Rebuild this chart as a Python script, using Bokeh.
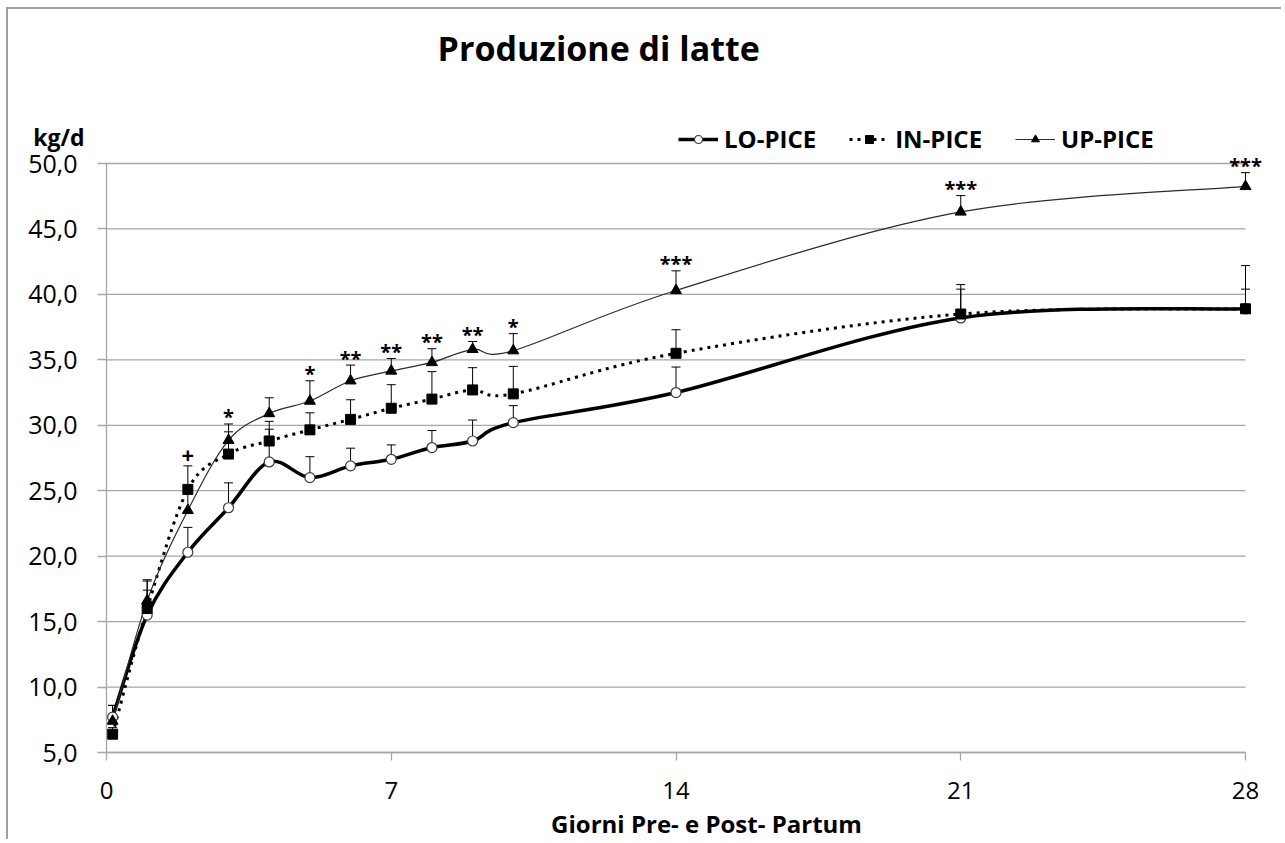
import numpy as np
from bokeh.plotting import figure
from bokeh.models import (Range1d, FixedTicker, Legend, LegendItem, Whisker, TeeHead,
                          ColumnDataSource)
from bokeh.core.properties import value
from bokeh.embed import file_html
from bokeh.resources import INLINE

# Days relative to calving
days = [0.15, 1, 2, 3, 4, 5, 6, 7, 8, 9, 10, 14, 21, 28]

# Milk yield (kg/d): mean and standard error per group
lo_mean = [7.7, 15.5, 20.3, 23.7, 27.2, 26.0, 26.9, 27.4, 28.3, 28.8, 30.2, 32.5, 38.2, 38.9]
lo_se = [0.9, 1.9, 1.9, 1.9, 2.5, 1.6, 1.35, 1.1, 1.3, 1.6, 1.3, 1.95, 2.2, 1.5]
in_mean = [6.4, 16.0, 25.1, 27.8, 28.8, 29.65, 30.45, 31.3, 32.0, 32.7, 32.4, 35.5, 38.5, 38.9]
in_se = [0.5, 2.1, 1.8, 1.7, 1.5, 1.3, 1.5, 1.8, 2.1, 1.7, 2.1, 1.8, 2.25, 3.3]
up_mean = [7.4, 16.6, 23.5, 28.85, 30.9, 31.85, 33.4, 34.15, 34.8, 35.8, 35.7, 40.3, 46.3, 48.25]
up_se = [1.2, 1.6, 1.5, 1.25, 1.2, 1.55, 1.2, 0.95, 1.05, 0.6, 1.3, 1.5, 1.25, 1.05]

# Significance of the group effect per day
sig_days = [2, 3, 5, 6, 7, 8, 9, 10, 14, 21, 28]
sig_marks = ["+", "*", "*", "**", "**", "**", "**", "*", "***", "***", "***"]

x_ticks = [0, 7, 14, 21, 28]
y_ticks = [5, 10, 15, 20, 25, 30, 35, 40, 45, 50]
y_tick_labels = ["5,0", "10,0", "15,0", "20,0", "25,0", "30,0", "35,0", "40,0", "45,0", "50,0"]

FONT = "Open Sans"
GRID = "#a6a6a6"

# Drawing scale: pixels per day and per kg/d; the frame covers the whole figure
PX_DAY = 1139 / 28
PX_KG = 589 / 45
W, H = 1275, 832
X0 = -98 / PX_DAY                 # left edge of the figure in days
Y0 = 5 - 89 / PX_KG               # bottom edge of the figure in kg/d


def smooth_segments(xs, ys):
    """Cubic Bezier segments through the points (Catmull-Rom style control points)."""
    x = np.asarray(xs, float)
    y = np.asarray(ys, float)
    xp = np.concatenate([[x[0]], x, [x[-1]]])
    yp = np.concatenate([[y[0]], y, [y[-1]]])
    i = np.arange(len(x) - 1)
    return dict(
        x0=x[:-1], y0=y[:-1], x1=x[1:], y1=y[1:],
        cx0=x[:-1] + (xp[i + 2] - xp[i]) / 6.0,
        cy0=y[:-1] + (yp[i + 2] - yp[i]) / 6.0,
        cx1=x[1:] - (xp[i + 3] - xp[i + 1]) / 6.0,
        cy1=y[1:] - (yp[i + 3] - yp[i + 1]) / 6.0,
    )


p = figure(width=W, height=H, output_backend="svg", toolbar_location=None,
           x_range=Range1d(X0, X0 + W / PX_DAY), y_range=Range1d(Y0, Y0 + H / PX_KG),
           min_border=0, min_border_left=0, min_border_right=0,
           min_border_top=0, min_border_bottom=0)
p.margin = (7, 0, 0, 6)
p.styles = {"border-top": "2px solid #a0a0a0", "border-left": "2px solid #a0a0a0"}
p.outline_line_color = None
p.background_fill_color = "white"
p.xgrid.visible = False
p.ygrid.visible = False

# Axes drawn at the data origin
p.xaxis.fixed_location = y_ticks[0]
p.yaxis.fixed_location = x_ticks[0]
p.xaxis.ticker = FixedTicker(ticks=x_ticks)
p.xaxis.bounds = (x_ticks[0], x_ticks[-1])
p.yaxis.ticker = FixedTicker(ticks=y_ticks)
p.yaxis.bounds = (y_ticks[0], y_ticks[-1])
p.yaxis.major_label_overrides = {t: lab for t, lab in zip(y_ticks, y_tick_labels)}
for ax in (p.xaxis, p.yaxis):
    ax.axis_line_color = GRID
    ax.axis_line_width = 1.3
    ax.major_tick_line_color = GRID
    ax.major_tick_line_width = 1.3
    ax.major_tick_in = 0
    ax.minor_tick_line_color = None
    ax.major_label_text_font = FONT
    ax.major_label_text_color = "black"
p.xaxis.major_tick_out = 8
p.xaxis.major_label_standoff = 21
p.xaxis.major_label_text_font_size = "24px"
p.yaxis.major_tick_out = 9
p.yaxis.major_label_standoff = 20
p.yaxis.major_label_text_font_size = "25px"

# Horizontal grid lines between day 0 and day 28
p.segment(x0=x_ticks[0], x1=x_ticks[-1], y0=y_ticks, y1=y_ticks,
          line_color=GRID, line_width=1.3, level="underlay")

# Error bars (upper side only)
def error_bars(mean, se):
    src = ColumnDataSource(dict(x=days, y=mean, top=[m + s for m, s in zip(mean, se)]))
    w = Whisker(base="x", lower="y", upper="top", source=src,
                line_color="black", line_width=1,
                upper_head=TeeHead(size=9, line_color="black", line_width=1),
                lower_head=None, level="underlay")
    p.add_layout(w)

for m, s in ((lo_mean, lo_se), (in_mean, in_se), (up_mean, up_se)):
    error_bars(m, s)

# Smoothed series lines
BZ = dict(x0="x0", y0="y0", x1="x1", y1="y1", cx0="cx0", cy0="cy0", cx1="cx1", cy1="cy1")
lo_line = p.bezier(source=ColumnDataSource(smooth_segments(days, lo_mean)), **BZ,
                   line_color="black", line_width=3.5)
in_line = p.bezier(source=ColumnDataSource(smooth_segments(days, in_mean)), **BZ,
                   line_color="black", line_width=3, line_dash="3 5")
up_line = p.bezier(source=ColumnDataSource(smooth_segments(days, up_mean)), **BZ,
                   line_color="#2b2b2b", line_width=1.2)

# Markers
lo_pts = p.scatter(days, lo_mean, marker="circle", size=10, fill_color="white",
                   line_color="#3a3a3a", line_width=1.2)
in_pts = p.scatter(days, in_mean, marker="square", size=10, fill_color="black", line_color="black")
up_pts = p.scatter(days, up_mean, marker="triangle", size=11, fill_color="black", line_color="black")

# Significance marks above the highest error bar of each day
tops = {d: max(lo_mean[i] + lo_se[i], in_mean[i] + in_se[i], up_mean[i] + up_se[i])
        for i, d in enumerate(days)}
star_x = [d for d, s in zip(sig_days, sig_marks) if s != "+"]
star_t = [s for s in sig_marks if s != "+"]
plus_x = [d for d, s in zip(sig_days, sig_marks) if s == "+"]
plus_t = [s for s in sig_marks if s == "+"]
p.text(x=star_x, y=[tops[d] for d in star_x], text=star_t,
       text_font=value(FONT), text_font_style="bold", text_font_size="20px",
       text_align="center", text_baseline="alphabetic", y_offset=-7, text_color="black")
p.text(x=plus_x, y=[tops[d] for d in plus_x], text=plus_t,
       text_font=value(FONT), text_font_style="bold", text_font_size="22px",
       text_align="center", text_baseline="alphabetic", y_offset=-10, text_color="black")

# Legend
legend = Legend(items=[LegendItem(label="LO-PICE", renderers=[lo_line, lo_pts]),
                       LegendItem(label="IN-PICE", renderers=[in_line, in_pts]),
                       LegendItem(label="UP-PICE", renderers=[up_line, up_pts])],
                orientation="horizontal", location=(670, 686), padding=0, margin=0,
                spacing=33, glyph_width=40, glyph_height=20, label_standoff=6,
                label_text_font=FONT, label_text_font_style="bold", label_text_font_size="24px",
                label_text_color="black", border_line_color=None, background_fill_alpha=0)
p.add_layout(legend)

# Chart title, unit and x-axis title
p.text(x=[12.1], y=[58.85], text=["Produzione di latte"], text_font=value(FONT),
       text_font_style="bold", text_font_size="34px", text_color="black",
       text_align="center", text_baseline="alphabetic")
p.text(x=[-1.17], y=[52.05], text=["kg/d"], text_font=value(FONT),
       text_font_style="bold", text_font_size="23px", text_color="black",
       text_align="center", text_baseline="alphabetic")
p.text(x=[14.75], y=[-0.40], text=["Giorni Pre- e Post- Partum"], text_font=value(FONT),
       text_font_style="bold", text_font_size="24px", text_color="black",
       text_align="center", text_baseline="alphabetic")

open("out.html", "w").write(file_html(p, INLINE))
